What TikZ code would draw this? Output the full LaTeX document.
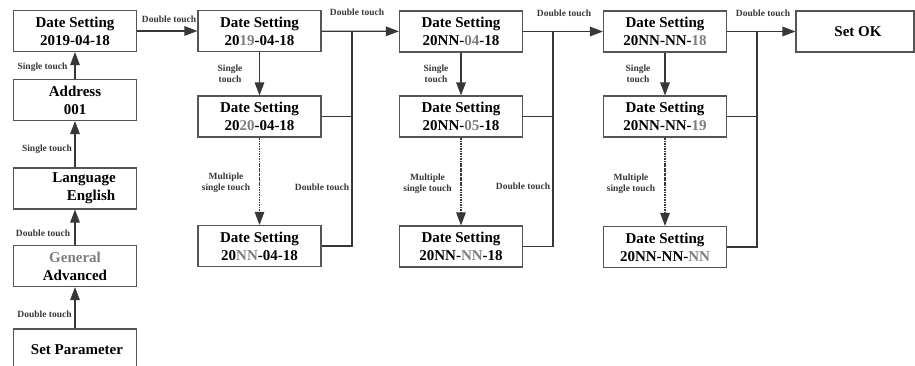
\documentclass[tikz,border=0pt]{standalone}
\usepackage{fontspec}
\setmainfont{Liberation Serif}
\usetikzlibrary{arrows.meta,positioning}
\definecolor{framegray}{RGB}{85,85,85}
\definecolor{linegray}{RGB}{55,55,55}
\definecolor{digitgray}{RGB}{125,125,125}
\newcommand{\gd}[1]{\textcolor{digitgray}{#1}}

\begin{document}
\begin{tikzpicture}[x=1pt,y=-1pt,
    menubox/.style={draw=framegray, line width=1.1pt, minimum width=123pt, minimum height=41pt,
      inner sep=0pt, align=center, font=\fontsize{15}{18}\selectfont\bfseries},
    touchlbl/.style={inner sep=0pt, align=center, font=\fontsize{9.5}{11}\selectfont\bfseries, text=linegray},
    flow/.style={draw=linegray, line width=1.3pt, -{Triangle[length=13pt,width=9.5pt]}},
    multiflow/.style={flow, dash pattern=on 2.5pt off 0.8pt on 1pt off 0.8pt},
    link/.style={draw=linegray, line width=1.3pt}]
  \useasboundingbox (0,0) rectangle (915,366);

  % left column
  \node[menubox] (dateA) at (75,31) {Date Setting\\2019-04-18};
  \node[menubox] (addr) at (75,100) {Address\\001};
  \node[menubox] (lang) at (75,188.5) {\hspace*{18pt}Language\\\hspace*{32pt}English};
  \node[menubox] (gen) at (75,266) {\gd{General}\\Advanced};
  \node[menubox, minimum height=42pt] (setpar) at (75,350) {\hspace*{4pt}Set Parameter};

  % year column
  \node[menubox] (yearA) at (259.5,31) {Date Setting\\20\gd{19}-04-18};
  \node[menubox] (yearB) at (259.5,116.5) {Date Setting\\20\gd{20}-04-18};
  \node[menubox] (yearC) at (259.5,246) {Date Setting\\20\gd{NN}-04-18};

  % month column
  \node[menubox] (monA) at (461,31.5) {Date Setting\\20NN-\gd{04}-18};
  \node[menubox] (monB) at (461,116.5) {Date Setting\\20NN-\gd{05}-18};
  \node[menubox] (monC) at (461,246.5) {Date Setting\\20NN-\gd{NN}-18};

  % day column
  \node[menubox] (dayA) at (665,31.5) {Date Setting\\20NN-NN-\gd{18}};
  \node[menubox] (dayB) at (665,116.5) {Date Setting\\20NN-NN-\gd{19}};
  \node[menubox] (dayC) at (665,247) {Date Setting\\20NN-NN-\gd{NN}};

  \node[menubox, minimum width=118pt] (setok) at (855,31.5) {\hspace*{6pt}Set OK};

  % junctions
  \coordinate (jy) at (352,31);
  \coordinate (jm) at (553,31.5);
  \coordinate (jd) at (757,31.5);

  % left column arrows
  \draw[flow] (setpar) -- (gen);
  \draw[flow] (gen) -- (lang);
  \draw[flow] (lang) -- (addr);
  \draw[flow] (addr) -- (dateA);
  \draw[flow] (dateA) -- (yearA);

  \node[touchlbl] (l1) at (42.5,67) {Single touch};
  \node[touchlbl] (l2) at (47,149) {Single touch};
  \node[touchlbl] (l3) at (43,233) {Double touch};
  \node[touchlbl] (l4) at (44.5,314) {Double touch};
  \node[touchlbl] (l5) at (169,19) {Double touch};

  % year column arrows
  \draw[flow] (yearA) -- (yearB);
  \draw[multiflow] (yearB) -- (yearC);
  \draw[flow] (yearA) -- (monA);
  \draw[link] (yearB.east) -- (yearB.east -| jy);
  \draw[link] (yearC.east) -| (jy);
  \node[touchlbl] (l6) at (230,74) {Single\\touch};
  \node[touchlbl] (l7) at (226,182.5) {Multiple\\single touch};
  \node[touchlbl] (l8) at (322,187) {Double touch};
  \node[touchlbl] (l9) at (357,12) {Double touch};

  % month column arrows
  \draw[flow] (monA) -- (monB);
  \draw[multiflow] (monB) -- (monC);
  \draw[flow] (monA) -- (dayA);
  \draw[link] (monB.east) -- (monB.east -| jm);
  \draw[link] (monC.east) -| (jm);
  \node[touchlbl] (l10) at (436,74) {Single\\touch};
  \node[touchlbl] (l11) at (427.5,183.5) {Multiple\\single touch};
  \node[touchlbl] (l12) at (523,186) {Double touch};
  \node[touchlbl] (l13) at (564,13) {Double touch};

  % day column arrows
  \draw[flow] (dayA) -- (dayB);
  \draw[multiflow] (dayB) -- (dayC);
  \draw[flow] (dayA) -- (setok);
  \draw[link] (dayB.east) -- (dayB.east -| jd);
  \draw[link] (dayC.east) -| (jd);
  \node[touchlbl] (l14) at (638,74) {Single\\touch};
  \node[touchlbl] (l15) at (631,183.5) {Multiple\\single touch};
  \node[touchlbl] (l16) at (763,13) {Double touch};
\end{tikzpicture}
\end{document}
